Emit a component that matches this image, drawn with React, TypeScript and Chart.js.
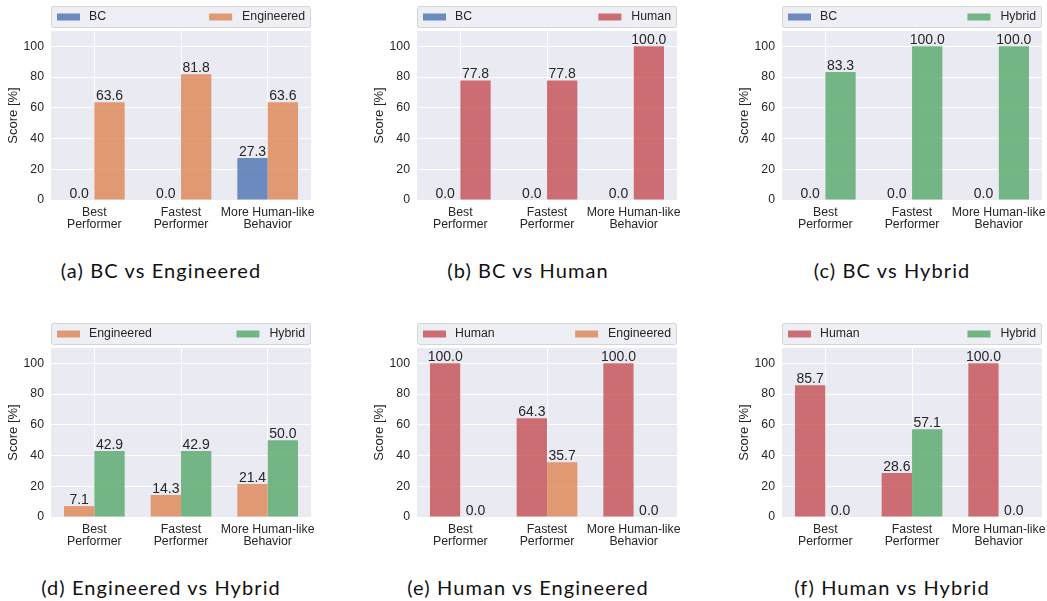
import React, { useEffect, useRef } from "react";
import { Chart, registerables } from "chart.js";
Chart.register(...registerables);

// ---------- data ----------
const categories: string[][] = [
  ["Best", "Performer"],
  ["Fastest", "Performer"],
  ["More Human-like", "Behavior"],
];
const yTickValues = [0, 20, 40, 60, 80, 100];
const yMax = 110;

const aBC = [0.0, 0.0, 27.3];
const aEngineered = [63.6, 81.8, 63.6];
const bBC = [0.0, 0.0, 0.0];
const bHuman = [77.8, 77.8, 100.0];
const cBC = [0.0, 0.0, 0.0];
const cHybrid = [83.3, 100.0, 100.0];
const dEngineered = [7.1, 14.3, 21.4];
const dHybrid = [42.9, 42.9, 50.0];
const eHuman = [100.0, 64.3, 100.0];
const eEngineered = [0.0, 35.7, 0.0];
const fHuman = [85.7, 28.6, 100.0];
const fHybrid = [0.0, 57.1, 0.0];

const captions = [
  "(a) BC vs Engineered",
  "(b) BC vs Human",
  "(c) BC vs Hybrid",
  "(d) Engineered vs Hybrid",
  "(e) Human vs Engineered",
  "(f) Human vs Hybrid",
];

const seriesColors: Record<string, string> = {
  BC: "rgba(76,114,176,0.8)",
  Engineered: "rgba(221,132,82,0.8)",
  Human: "rgba(196,78,82,0.8)",
  Hybrid: "rgba(85,168,104,0.8)",
};

type Series = { name: string; values: number[] };
const panels: Series[][] = [
  [{ name: "BC", values: aBC }, { name: "Engineered", values: aEngineered }],
  [{ name: "BC", values: bBC }, { name: "Human", values: bHuman }],
  [{ name: "BC", values: cBC }, { name: "Hybrid", values: cHybrid }],
  [{ name: "Engineered", values: dEngineered }, { name: "Hybrid", values: dHybrid }],
  [{ name: "Human", values: eHuman }, { name: "Engineered", values: eEngineered }],
  [{ name: "Human", values: fHuman }, { name: "Hybrid", values: fHybrid }],
];

// ---------- layout / style ----------
const FONT = "'Liberation Sans', Arial, sans-serif";
const TEXT = "#262626";
const PLOT_LEFTS = [51, 417, 782];
const ROW_TOPS = [0, 317];
const COL_CENTERS = [161, 528, 892];
const CAPTION_Y = [270, 587];
const CANVAS_W = 315;
const CANVAS_H = 240;

const bgPlugin = {
  id: "bgPlugin",
  beforeDraw(chart: any) {
    const { ctx, chartArea } = chart;
    ctx.save();
    ctx.fillStyle = "#EAEAF2";
    ctx.fillRect(chartArea.left, chartArea.top, chartArea.right - chartArea.left, chartArea.bottom - chartArea.top);
    ctx.restore();
  },
};

const legendPlugin = {
  id: "boxLegend",
  afterDraw(chart: any) {
    const { ctx, chartArea } = chart;
    const x0 = chartArea.left + 0.5;
    const x1 = chartArea.right - 0.5;
    const y0 = 6.5;
    const h = 21;
    ctx.save();
    ctx.beginPath();
    if (ctx.roundRect) ctx.roundRect(x0, y0, x1 - x0, h, 2);
    else ctx.rect(x0, y0, x1 - x0, h);
    ctx.fillStyle = "rgba(234,234,242,0.8)";
    ctx.fill();
    ctx.strokeStyle = "rgba(204,204,204,0.8)";
    ctx.lineWidth = 1;
    ctx.stroke();
    ctx.font = `12.3px ${FONT}`;
    ctx.textBaseline = "middle";
    ctx.fillStyle = TEXT;
    const ds = chart.data.datasets;
    const midY = y0 + h / 2;
    ctx.fillStyle = ds[0].backgroundColor;
    ctx.fillRect(chartArea.left + 6, midY - 3.5, 23, 7);
    ctx.fillStyle = TEXT;
    ctx.textAlign = "left";
    ctx.fillText(ds[0].label, chartArea.left + 38, midY);
    ctx.textAlign = "right";
    const tx = chartArea.right - 6;
    ctx.fillText(ds[1].label, tx, midY);
    const w = ctx.measureText(ds[1].label).width;
    ctx.fillStyle = ds[1].backgroundColor;
    ctx.fillRect(tx - w - 10 - 23, midY - 3.5, 23, 7);
    ctx.restore();
  },
};

const valueLabelPlugin = {
  id: "valueLabels",
  afterDatasetsDraw(chart: any) {
    const { ctx } = chart;
    ctx.save();
    ctx.font = `14px ${FONT}`;
    ctx.fillStyle = TEXT;
    ctx.textAlign = "center";
    ctx.textBaseline = "alphabetic";
    chart.data.datasets.forEach((d: any, i: number) => {
      const meta = chart.getDatasetMeta(i);
      meta.data.forEach((el: any, j: number) => {
        const v = d.data[j] as number;
        ctx.fillText(v.toFixed(1), el.x, el.y - 2);
      });
    });
    ctx.restore();
  },
};

function Panel({ series, left, top }: { series: Series[]; left: number; top: number }) {
  const ref = useRef<HTMLCanvasElement | null>(null);
  useEffect(() => {
    if (!ref.current) return;
    const chart = new Chart(ref.current, {
      type: "bar",
      data: {
        labels: categories as any,
        datasets: series.map((s) => ({
          label: s.name,
          data: s.values,
          backgroundColor: seriesColors[s.name],
          borderWidth: 0,
          categoryPercentage: 0.7,
          barPercentage: 1,
        })),
      },
      options: {
        responsive: false,
        animation: false,
        events: [],
        layout: { padding: { top: 31, right: 4, left: 0, bottom: 0 } },
        plugins: { legend: { display: false }, tooltip: { enabled: false } },
        scales: {
          x: {
            grid: { color: "#ffffff", lineWidth: 1, offset: false, drawTicks: false },
            border: { display: false },
            ticks: {
              color: TEXT,
              font: { family: FONT, size: 12.3, lineHeight: 1.03 },
              padding: 6,
              maxRotation: 0,
              minRotation: 0,
              autoSkip: false,
            },
            afterFit: (s: any) => {
              s.height = 40;
              s.paddingLeft = 0;
              s.paddingRight = 0;
            },
          },
          y: {
            min: 0,
            max: yMax,
            grid: { color: "#ffffff", lineWidth: 1, drawTicks: false },
            border: { display: false },
            ticks: { color: TEXT, font: { family: FONT, size: 12.3 }, padding: 7 },
            afterBuildTicks: (s: any) => {
              s.ticks = yTickValues.map((v) => ({ value: v }));
            },
            afterFit: (s: any) => {
              s.width = 51;
              s.paddingTop = 0;
              s.paddingBottom = 0;
            },
            title: {
              display: true,
              text: "Score [%]",
              color: TEXT,
              font: { family: FONT, size: 13 },
              padding: { top: 6, bottom: 0 },
            },
          },
        },
      } as any,
      plugins: [bgPlugin, legendPlugin, valueLabelPlugin],
    });
    return () => chart.destroy();
  }, [series]);
  return (
    <canvas
      ref={ref}
      width={CANVAS_W}
      height={CANVAS_H}
      style={{ position: "absolute", left, top, width: CANVAS_W, height: CANVAS_H }}
    />
  );
}

export default function App() {
  return (
    <div style={{ position: "absolute", left: 0, top: 0, width: 1047, height: 601, background: "#fff", overflow: "hidden" }}>
      {panels.map((series, i) => {
        const col = i % 3;
        const row = Math.floor(i / 3);
        return (
          <React.Fragment key={i}>
            <Panel series={series} left={PLOT_LEFTS[col] - 51} top={ROW_TOPS[row]} />
            <div
              style={{
                position: "absolute",
                left: COL_CENTERS[col] - 160,
                width: 320,
                top: CAPTION_Y[row] - 13,
                height: 26,
                lineHeight: "26px",
                textAlign: "center",
                fontFamily: "Lato, 'Open Sans', sans-serif",
                fontSize: 20,
                letterSpacing: "1.1px",
                color: "#111",
                whiteSpace: "nowrap",
              }}
            >
              {captions[i]}
            </div>
          </React.Fragment>
        );
      })}
    </div>
  );
}
